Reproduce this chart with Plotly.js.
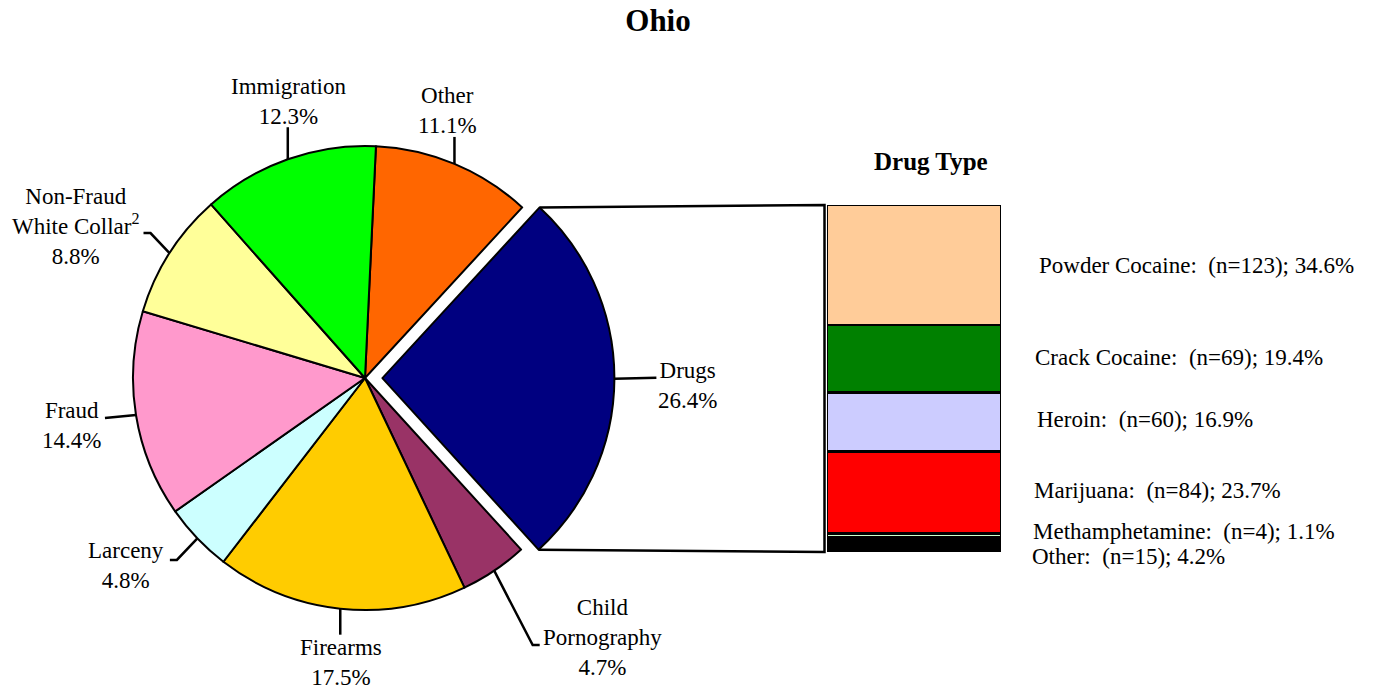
<!DOCTYPE html>
<html><head><meta charset="utf-8">
<script src="https://cdn.plot.ly/plotly-3.0.1.min.js"></script>
<style>html,body{margin:0;padding:0;background:#fff}</style>
</head><body><div id="chart" style="width:1382px;height:689px"></div>
<script>
// ---------- data ----------
const offenseNames = ['Other','Drugs','Child Pornography','Firearms','Larceny','Fraud','Non-Fraud White Collar','Immigration'];
const offenseLabelText = ['Other','Drugs','Child<br>Pornography','Firearms','Larceny','Fraud','Non-Fraud<br>White Collar<sup>2</sup>','Immigration'];
const offensePct = [11.1, 26.4, 4.7, 17.5, 4.8, 14.4, 8.8, 12.3];
const offenseColors = ['#FF6600','#000080','#993366','#FFCC00','#CCFFFF','#FF99CC','#FFFF99','#00FF00'];

const drugTypes = ['Powder Cocaine','Crack Cocaine','Heroin','Marijuana','Methamphetamine','Other'];
const drugCounts = [123, 69, 60, 84, 4, 15];
const drugPct = [34.6, 19.4, 16.9, 23.7, 1.1, 4.2];
const drugColors = ['#FFCC99','#008000','#CCCCFF','#FF0000','#CCFFCC','#000000'];

// ---------- layout constants ----------
const W = 1382, H = 689;
const FONT = 'Times New Roman, Liberation Serif, serif';
const pieCx = 365, pieCy = 378, pieR = 232, pullAmt = 0.075, rot = 2.7;
const pulledIndex = 1;
const half = pieR * (1 + pullAmt);
const pieDomX = [(pieCx - half) / W, (pieCx + half) / W];
const pieDomY = [1 - (pieCy + half) / H, 1 - (pieCy - half) / H];
const barLeft = 827, barRight = 1001, barTop = 205, barBottom = 552;

// label placement: leader offsets (relative to slice edge point) and text center offset
const leaderOffsets = [
  [[0,-27]],
  [[42,-1]],
  [[38.5,74.4],[45.5,74.4]],
  [[0,26]],
  [[-20.5,21.5],[-27.5,21.5]],
  [[-31,3]],
  [[-19,-20],[-26,-20]],
  [[0,-32]]
];
const textOffsets = [[-6.5,-53],[73,7],[108.5,66.4],[1,54],[-71.5,27.5],[-64,10],[-94,-27],[1,-58]];
const drugLabelShiftY = [0, 1, 3, 2, 4, -12];
const drugLabelShiftX = [3, -1, 1, -2, -3, -4];

// ---------- geometry from data ----------
const total = offensePct.reduce((a,b)=>a+b,0);
const px = x => x / W, py = y => 1 - y / H;
const shapes = [];
const annotations = [];
let cum = 0;
const sliceEdges = [];
offensePct.forEach((v, i) => {
  const a0 = (rot + 360 * cum / total) * Math.PI / 180;
  const a1 = (rot + 360 * (cum + v) / total) * Math.PI / 180;
  const am = (a0 + a1) / 2;
  cum += v;
  let ox = 0, oy = 0;
  if (i === pulledIndex) { ox = pullAmt * pieR * Math.sin(am); oy = -pullAmt * pieR * Math.cos(am); }
  const ex = pieCx + ox + pieR * Math.sin(am), ey = pieCy + oy - pieR * Math.cos(am);
  sliceEdges.push({a0, a1, ox, oy});
  let path = `M${px(ex)},${py(ey)}`;
  leaderOffsets[i].forEach(o => { path += ` L${px(ex + o[0])},${py(ey + o[1])}`; });
  shapes.push({type:'path', xref:'paper', yref:'paper', path, line:{color:'#000', width:2.5}});
  annotations.push({
    xref:'paper', yref:'paper', x: px(ex + textOffsets[i][0]), y: py(ey + textOffsets[i][1]),
    xanchor:'center', yanchor:'middle', showarrow:false, align:'center',
    text: offenseLabelText[i] + '<br>' + offensePct[i].toFixed(1) + '%',
    font:{family:FONT, size:23, color:'#000'}
  });
});

// connector from pulled slice to the stacked bar
const ps = sliceEdges[pulledIndex];
const tcx = pieCx + ps.ox + pieR * Math.sin(ps.a0), tcy = pieCy + ps.oy - pieR * Math.cos(ps.a0);
const bcx = pieCx + ps.ox + pieR * Math.sin(ps.a1), bcy = pieCy + ps.oy - pieR * Math.cos(ps.a1);
const barDomX = [barLeft / W, barRight / W];
const barDomY = [1 - barBottom / H, 1 - barTop / H];
const connX = barDomX[0] - 2.5 / W;
shapes.push({type:'path', xref:'paper', yref:'paper',
  path:`M${px(tcx)},${py(tcy)} L${connX},${barDomY[1]} L${connX},${barDomY[0]} L${px(bcx)},${py(bcy)}`,
  line:{color:'#000', width:2.5}});

// drug labels
const drugTotal = drugCounts.reduce((a,b)=>a+b,0);
let dc = 0;
drugTypes.forEach((d, i) => {
  const mid = dc + drugCounts[i] / 2;
  dc += drugCounts[i];
  annotations.push({
    xref:'paper', yref:'y', x: px(1034), y: mid, xanchor:'left', yanchor:'middle',
    xshift: drugLabelShiftX[i], yshift: drugLabelShiftY[i], showarrow:false,
    text: `${d}:&nbsp; (n=${drugCounts[i]}); ${drugPct[i].toFixed(1)}%`,
    font:{family:FONT, size:23, color:'#000'}
  });
});
annotations.push({xref:'paper', yref:'paper', x:px(931), y:py(162), xanchor:'center', yanchor:'middle',
  showarrow:false, text:'<b>Drug Type</b>', font:{family:FONT, size:25, color:'#000'}});

// ---------- traces ----------
const traces = [{
  type:'pie', labels: offenseNames, values: offensePct,
  marker:{colors: offenseColors, line:{color:'#000', width:2}},
  sort:false, direction:'clockwise', rotation: rot,
  pull: offensePct.map((v,i) => i === pulledIndex ? pullAmt : 0),
  textinfo:'none', hoverinfo:'none', showlegend:false,
  domain:{x: pieDomX, y: pieDomY}
}];
drugTypes.forEach((d, i) => {
  traces.push({type:'bar', x:[0], y:[drugCounts[i]], name:d, xaxis:'x', yaxis:'y',
    marker:{color: drugColors[i], line:{color:'#000', width:2.5}}, hoverinfo:'none', showlegend:false});
});

const layout = {
  width: W, height: H, autosize:false,
  margin:{l:0, r:0, t:0, b:0},
  paper_bgcolor:'#fff', plot_bgcolor:'rgba(0,0,0,0)',
  title:{text:'<b>Ohio</b>', font:{family:FONT, size:31, color:'#000'},
    x: 658 / W, xanchor:'center', xref:'paper', y: 1 - 20 / H, yanchor:'middle', yref:'container'},
  barmode:'stack', bargap:0,
  xaxis:{domain: barDomX, range:[-0.5, 0.5], visible:false, fixedrange:true},
  yaxis:{domain: barDomY, range:[drugTotal, 0], visible:false, fixedrange:true},
  showlegend:false,
  shapes, annotations
};
Plotly.newPlot('chart', traces, layout, {staticPlot:true, displayModeBar:false});
</script>
</body></html>
